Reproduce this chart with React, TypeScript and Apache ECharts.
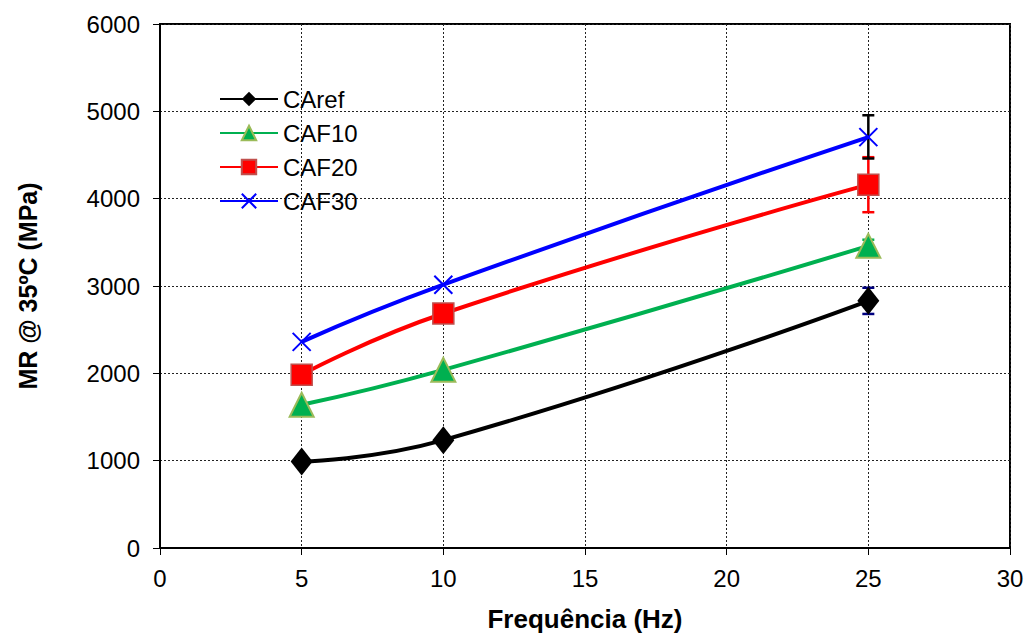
import React, { useEffect, useRef } from "react";
import * as echarts from "echarts";

const freqs = [5, 10, 25];
const xTicks = [0, 5, 10, 15, 20, 25, 30];
const yTicks = [0, 1000, 2000, 3000, 4000, 5000, 6000];

const caref = [990, 1235, 2830];
const caf10 = [1640, 2040, 3460];
const caf20 = [1985, 2685, 4160];
const caf30 = [2360, 3015, 4705];

// error bars at 25 Hz: [x, low, high]
const errCaref = [[25, 2680, 2980]];
const errCaf10 = [[25, 3390, 3530]];
const errCaf20 = [[25, 3845, 4475]];
const errCaf30 = [[25, 4460, 4955]];

const FONT = "Liberation Sans, Arial, sans-serif";

function errSeries(name: string, data: number[][], color: string) {
  return {
    type: "custom",
    name,
    z: 1,
    silent: true,
    renderItem: (params: any, api: any) => {
      const x = api.value(0);
      const lo = api.coord([x, api.value(1)]);
      const hi = api.coord([x, api.value(2)]);
      const w = 6;
      const style = { stroke: color, lineWidth: 2.5 };
      return {
        type: "group",
        children: [
          { type: "line", shape: { x1: lo[0], y1: lo[1], x2: hi[0], y2: hi[1] }, style },
          { type: "line", shape: { x1: lo[0] - w, y1: lo[1], x2: lo[0] + w, y2: lo[1] }, style },
          { type: "line", shape: { x1: hi[0] - w, y1: hi[1], x2: hi[0] + w, y2: hi[1] }, style },
        ],
      };
    },
    data,
  };
}

function lineSeries(name: string, data: number[], color: string, symbol: string, size: any, itemStyle: any) {
  return {
    type: "line",
    name,
    z: 3,
    smooth: true,
    data: freqs.map((f, i) => [f, data[i]]),
    symbol,
    symbolSize: size,
    lineStyle: { color, width: 4 },
    itemStyle,
    color,
  };
}

export default function App() {
  const ref = useRef<HTMLDivElement>(null);
  useEffect(() => {
    const chart = echarts.init(ref.current!, undefined, { renderer: "svg" });
    chart.setOption({
      animation: false,
      backgroundColor: "#fff",
      textStyle: { fontFamily: FONT },
      grid: {
        left: 160,
        right: 14,
        top: 24,
        bottom: 85,
        outerBoundsMode: "none",
        containLabel: false,
        show: true,
        borderColor: "#000",
        borderWidth: 2,
      },
      legend: {
        orient: "vertical",
        left: 214,
        top: 82,
        itemWidth: 58,
        itemHeight: 18,
        itemGap: 10,
        textStyle: { fontSize: 24, color: "#000", fontFamily: FONT },
        data: ["CAref", "CAF10", "CAF20", "CAF30"],
      },
      xAxis: {
        type: "value",
        min: 0,
        max: 30,
        interval: 5,
        name: "Frequência (Hz)",
        nameLocation: "middle",
        nameGap: 58,
        nameTextStyle: { fontSize: 26, fontWeight: "bold", color: "#000", fontFamily: FONT },
        axisLine: { show: true, lineStyle: { color: "#000", width: 2 } },
        axisTick: { show: true, inside: false, length: 7, lineStyle: { color: "#000", width: 1 } },
        axisLabel: { fontSize: 24, color: "#000", margin: 18, fontFamily: FONT, formatter: (v: number) => (xTicks.includes(v) ? String(v) : "") },
        splitLine: { show: true, lineStyle: { color: "#222", type: [2, 2], width: 1 } },
      },
      yAxis: {
        type: "value",
        min: 0,
        max: 6000,
        interval: 1000,
        name: "MR @ 35ºC (MPa)",
        nameLocation: "middle",
        nameGap: 120,
        nameTextStyle: { fontSize: 25, fontWeight: "bold", color: "#000", fontFamily: FONT },
        axisLine: { show: true, lineStyle: { color: "#000", width: 2 } },
        axisTick: { show: true, inside: false, length: 7, lineStyle: { color: "#000", width: 1 } },
        axisLabel: { fontSize: 24, color: "#000", margin: 20, fontFamily: FONT, formatter: (v: number) => (yTicks.includes(v) ? String(v) : "") },
        splitLine: { show: true, lineStyle: { color: "#222", type: [2, 2], width: 1 } },
      },
      series: [
        errSeries("errCaref", errCaref, "#000080"),
        errSeries("errCaf10", errCaf10, "#00b050"),
        errSeries("errCaf20", errCaf20, "#ff0000"),
        errSeries("errCaf30", errCaf30, "#000000"),
        lineSeries("CAref", caref, "#000000", "diamond", [22, 28], { color: "#000000" }),
        lineSeries("CAF10", caf10, "#00b050", "triangle", [24, 24], { color: "#00b050", borderColor: "#9bbb59", borderWidth: 2 }),
        lineSeries("CAF20", caf20, "#ff0000", "rect", [21, 21], { color: "#ff0000", borderColor: "#c0504d", borderWidth: 1.5 }),
        lineSeries("CAF30", caf30, "#0000ff", "path://M0,0 L10,10 M10,0 L0,10", [18, 18], { color: "none", borderColor: "#0000ff", borderWidth: 2 }),
      ],
    });
    return () => chart.dispose();
  }, []);
  return <div ref={ref} style={{ width: 1024, height: 633, position: "absolute", left: 0, top: 0 }} />;
}
